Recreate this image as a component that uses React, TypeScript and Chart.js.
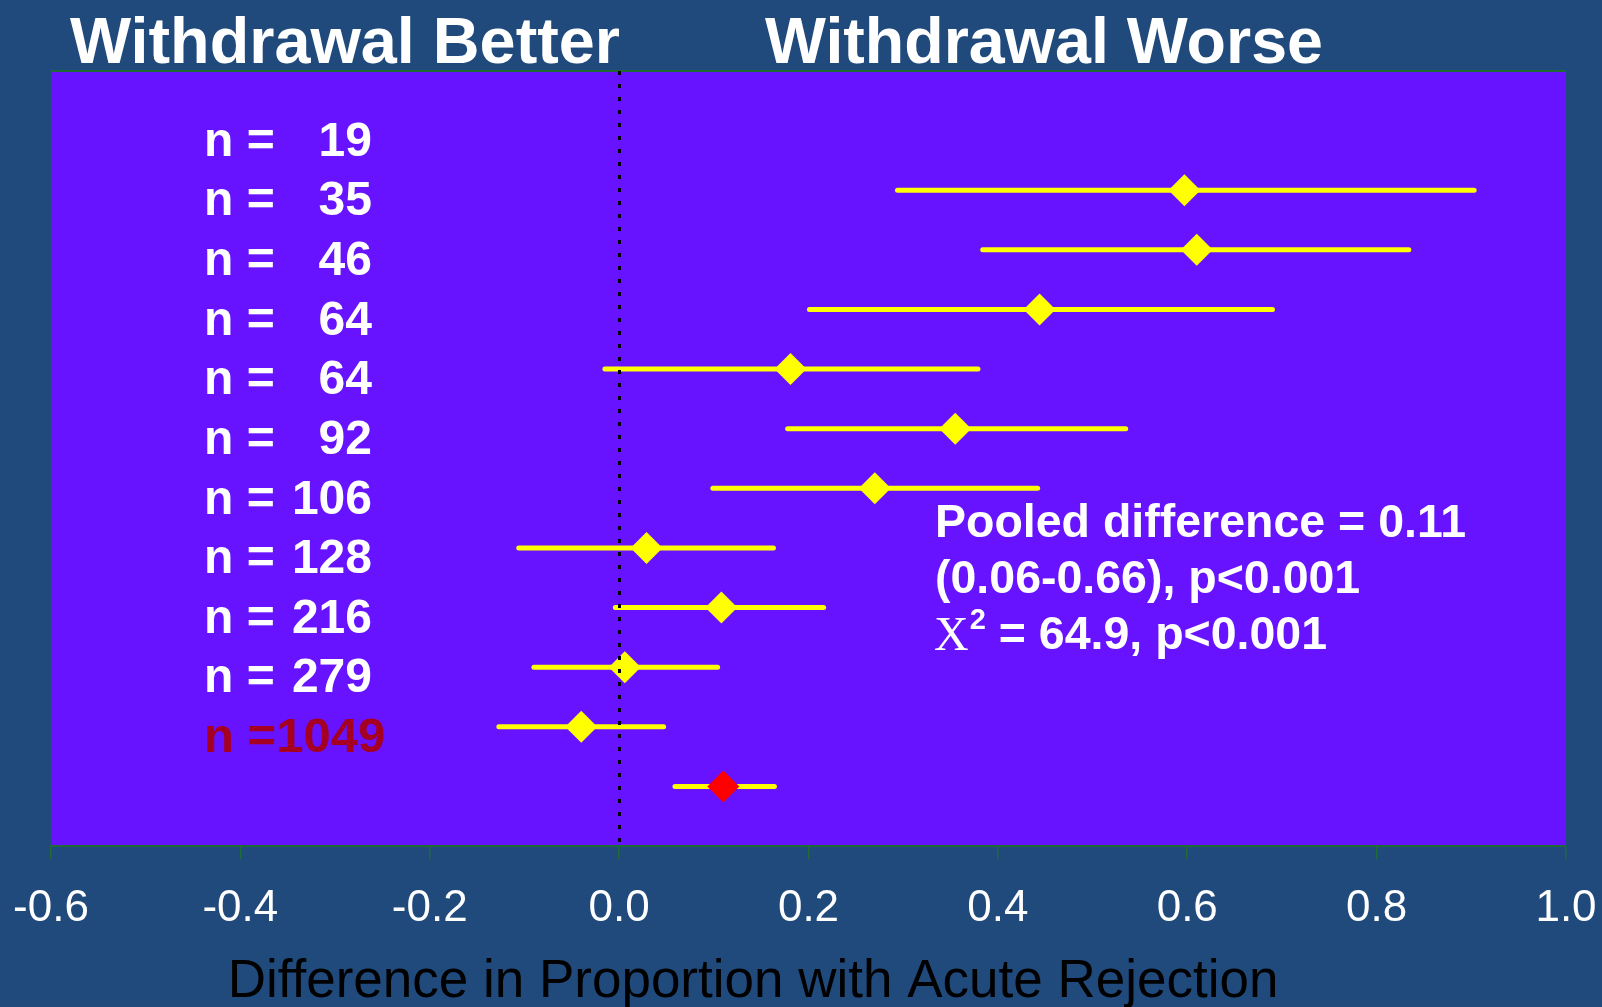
import React, { useEffect, useRef } from "react";
import { Chart, registerables } from "chart.js";

Chart.register(...registerables);

// ---- Data ----
const sampleSizes = ["19", "35", "46", "64", "64", "92", "106", "128", "216", "279", "1049"];
const estimates = [0.597, 0.61, 0.444, 0.181, 0.355, 0.27, 0.029, 0.108, 0.006, -0.04, 0.11];
const lowerCI = [0.294, 0.384, 0.201, -0.015, 0.178, 0.099, -0.106, -0.004, -0.09, -0.127, 0.059];
const upperCI = [0.903, 0.834, 0.69, 0.379, 0.535, 0.442, 0.163, 0.216, 0.104, 0.047, 0.164];
const rowPositions = [2, 3, 4, 5, 6, 7, 8, 9, 10, 11, 12];
const labelRows = [1, 2, 3, 4, 5, 6, 7, 8, 9, 10, 11];
const pointColors = ["#FFFF00", "#FFFF00", "#FFFF00", "#FFFF00", "#FFFF00", "#FFFF00", "#FFFF00", "#FFFF00", "#FFFF00", "#FFFF00", "#FF0000"];
const xMin = -0.6;
const xMax = 1.0;
const xStep = 0.2;
const headerLeft = "Withdrawal Better";
const headerRight = "Withdrawal Worse";
const xAxisTitle = "Difference in Proportion with Acute Rejection";
const statLine1 = "Pooled difference = 0.11";
const statLine2 = "(0.06-0.66), p<0.001";
const statLine3 = " = 64.9, p<0.001";

const BG = "#204A7C";
const PLOT_BG = "#6813FF";
const GREEN = "#1E6B35";
const SANS = '"Liberation Sans", Arial, Helvetica, sans-serif';
const SERIF = '"Liberation Serif", "Times New Roman", serif';

const decorPlugin = {
  id: "decor",
  beforeDraw(chart: any) {
    const { ctx, chartArea } = chart;
    ctx.save();
    ctx.fillStyle = PLOT_BG;
    ctx.fillRect(chartArea.left, chartArea.top, chartArea.right - chartArea.left, chartArea.bottom - chartArea.top);
    ctx.strokeStyle = GREEN;
    ctx.lineWidth = 2;
    ctx.beginPath();
    ctx.moveTo(chartArea.left, chartArea.top);
    ctx.lineTo(chartArea.right, chartArea.top);
    ctx.stroke();
    ctx.restore();
  },
  afterDatasetsDraw(chart: any) {
    const { ctx, chartArea, scales } = chart;
    const x0 = Math.round(scales.x.getPixelForValue(0));
    ctx.save();
    ctx.strokeStyle = "#000000";
    ctx.lineWidth = 3;
    ctx.setLineDash([4, 9]);
    ctx.beginPath();
    ctx.moveTo(x0 + 0.5, chartArea.top);
    ctx.lineTo(x0 + 0.5, chartArea.bottom);
    ctx.stroke();
    ctx.restore();
  },
  afterDraw(chart: any) {
    const { ctx, scales } = chart;
    const ys = scales.y;
    ctx.save();
    // Headers
    ctx.fillStyle = "#FFFFFF";
    ctx.font = `bold 65px ${SANS}`;
    ctx.textAlign = "center";
    ctx.textBaseline = "alphabetic";
    ctx.fillText(headerLeft, 345, 63, 550);
    ctx.fillText(headerRight, 1044, 63, 558);

    // n labels
    ctx.font = `bold 48px ${SANS}`;
    ctx.textBaseline = "middle";
    const last = sampleSizes.length - 1;
    sampleSizes.forEach((n, i) => {
      const y = ys.getPixelForValue(labelRows[i]) + 12;
      if (i === last) {
        ctx.fillStyle = "#A50021";
        ctx.textAlign = "left";
        ctx.font = `bold 49px ${SANS}`;
        ctx.fillText("n =" + n, 204, y);
      } else {
        ctx.fillStyle = "#FFFFFF";
        ctx.textAlign = "left";
        ctx.fillText("n =", 204, y);
        ctx.textAlign = "right";
        ctx.fillText(n, 372, y);
      }
    });

    // Stats annotation
    ctx.fillStyle = "#FFFFFF";
    ctx.textAlign = "left";
    ctx.textBaseline = "middle";
    ctx.font = `bold 46.5px ${SANS}`;
    ctx.fillText(statLine1, 935, 524);
    ctx.fillText(statLine2, 935, 580);
    ctx.font = `48px ${SERIF}`;
    ctx.fillText("X", 934, 637);
    const xw = ctx.measureText("X").width;
    ctx.font = `bold 29px ${SANS}`;
    ctx.fillText("2", 934 + xw + 1, 621);
    const tw = ctx.measureText("2").width;
    ctx.font = `bold 46.5px ${SANS}`;
    ctx.fillText(statLine3, 934 + xw + 1 + tw, 636);

    // X axis title
    ctx.fillStyle = "#000000";
    ctx.textAlign = "center";
    ctx.font = `53px ${SANS}`;
    ctx.fillText(xAxisTitle, 753, 982);
    ctx.restore();
  },
};

export default function App() {
  const canvasRef = useRef<HTMLCanvasElement | null>(null);

  useEffect(() => {
    document.body.style.margin = "0";
    const canvas = canvasRef.current;
    if (!canvas) return;

    const ciDatasets = rowPositions.map((row, i) => ({
      type: "line" as const,
      data: [
        { x: lowerCI[i], y: row },
        { x: upperCI[i], y: row },
      ],
      borderColor: "#FFFF00",
      borderWidth: 5,
      borderCapStyle: "round" as const,
      pointRadius: 0,
      showLine: true,
      fill: false,
      order: 2,
    }));

    const pointDataset = {
      type: "scatter" as const,
      data: rowPositions.map((row, i) => ({ x: estimates[i], y: row })),
      pointStyle: "rectRot" as const,
      pointRadius: 16,
      pointHoverRadius: 16,
      backgroundColor: pointColors,
      borderColor: pointColors,
      borderWidth: 0,
      order: 1,
    };

    const chart = new Chart(canvas, {
      type: "scatter",
      data: { datasets: [pointDataset as any, ...(ciDatasets as any[])] },
      options: {
        responsive: false,
        animation: false,
        layout: { padding: { left: 51, right: 36, top: 71, bottom: 0 } },
        plugins: { legend: { display: false }, tooltip: { enabled: false } },
        scales: {
          x: {
            type: "linear",
            position: "bottom",
            min: xMin,
            max: xMax,
            afterFit: (scale: any) => {
              scale.height = 161;
              scale.paddingLeft = 0;
              scale.paddingRight = 0;
            },
            ticks: {
              stepSize: xStep,
              color: "#FFFFFF",
              padding: 28,
              font: { family: SANS, size: 44, lineHeight: 1 },
              callback: (v: any) => Number(v).toFixed(1),
            },
            grid: {
              display: true,
              drawOnChartArea: false,
              drawTicks: true,
              tickLength: 13,
              color: GREEN,
              lineWidth: 1.5,
            },
            border: { display: true, color: GREEN, width: 2 },
            title: { display: false },
          },
          y: {
            type: "linear",
            display: false,
            min: 0,
            max: 13,
            reverse: true,
          },
        },
      },
      plugins: [decorPlugin],
    });

    return () => chart.destroy();
  }, []);

  return (
    <div style={{ width: 1602, height: 1007, background: BG, overflow: "hidden" }}>
      <canvas ref={canvasRef} width={1602} height={1007} style={{ display: "block" }} />
    </div>
  );
}
